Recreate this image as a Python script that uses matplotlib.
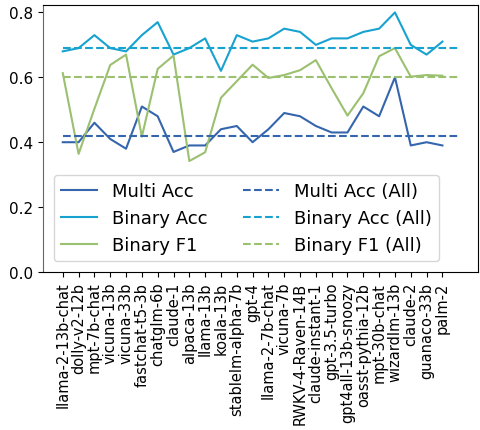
import matplotlib
matplotlib.use("Agg")
import matplotlib.pyplot as plt
import numpy as np

models = ["llama-2-13b-chat", "dolly-v2-12b", "mpt-7b-chat", "vicuna-13b", "vicuna-33b",
          "fastchat-t5-3b", "chatglm-6b", "claude-1", "alpaca-13b", "llama-13b", "koala-13b",
          "stablelm-alpha-7b", "gpt-4", "llama-2-7b-chat", "vicuna-7b", "RWKV-4-Raven-14B",
          "claude-instant-1", "gpt-3.5-turbo", "gpt4all-13b-snoozy", "oasst-pythia-12b",
          "mpt-30b-chat", "wizardlm-13b", "claude-2", "guanaco-33b", "palm-2"]

multi_acc = [0.40, 0.40, 0.46, 0.41, 0.38, 0.51, 0.48, 0.37, 0.39, 0.39, 0.44,
             0.45, 0.40, 0.44, 0.49, 0.48, 0.45, 0.43, 0.43, 0.51, 0.48, 0.60,
             0.39, 0.40, 0.39]
binary_acc = [0.68, 0.69, 0.73, 0.69, 0.68, 0.73, 0.77, 0.67, 0.69, 0.72, 0.62,
              0.73, 0.71, 0.72, 0.75, 0.74, 0.70, 0.72, 0.72, 0.74, 0.75, 0.80,
              0.70, 0.67, 0.71]
binary_f1 = [0.613, 0.364, 0.503, 0.638, 0.670, 0.417, 0.626, 0.667, 0.342, 0.369, 0.537,
             0.588, 0.639, 0.598, 0.607, 0.622, 0.653, 0.566, 0.482, 0.551, 0.665, 0.690,
             0.602, 0.607, 0.605]

multi_all = 0.42
binary_acc_all = 0.69
binary_f1_all = 0.60

c_multi = "#3566ad"
c_bacc = "#17a2d0"
c_bf1 = "#9bc070"

fig = plt.figure(figsize=(4.8, 4.31), dpi=100)
ax = fig.add_axes([43/480, 1-273/431, (478-43)/480, (273-6)/431])

x = np.arange(len(models))
xa = np.arange(len(models) + 1)
lw = 1.5
ax.plot(x, multi_acc, color=c_multi, lw=lw, label="Multi Acc")
ax.plot(x, binary_acc, color=c_bacc, lw=lw, label="Binary Acc")
ax.plot(x, binary_f1, color=c_bf1, lw=lw, label="Binary F1")
ax.plot(xa, [multi_all]*len(xa), color=c_multi, lw=lw, ls="--", label="Multi Acc (All)")
ax.plot(xa, [binary_acc_all]*len(xa), color=c_bacc, lw=lw, ls="--", label="Binary Acc (All)")
ax.plot(xa, [binary_f1_all]*len(xa), color=c_bf1, lw=lw, ls="--", label="Binary F1 (All)")

ax.set_ylim(bottom=0)
ax.set_yticks([0.0, 0.2, 0.4, 0.6, 0.8])
ax.set_xticks(x)
ax.set_xticklabels(models, rotation=90, fontsize=10.5)
ax.tick_params(axis="y", labelsize=11)
ax.spines["left"].set_color("#666666")
ax.legend(loc="lower left", ncol=2, fontsize=13, borderaxespad=0.6)

fig.savefig("out.png", dpi=100)
